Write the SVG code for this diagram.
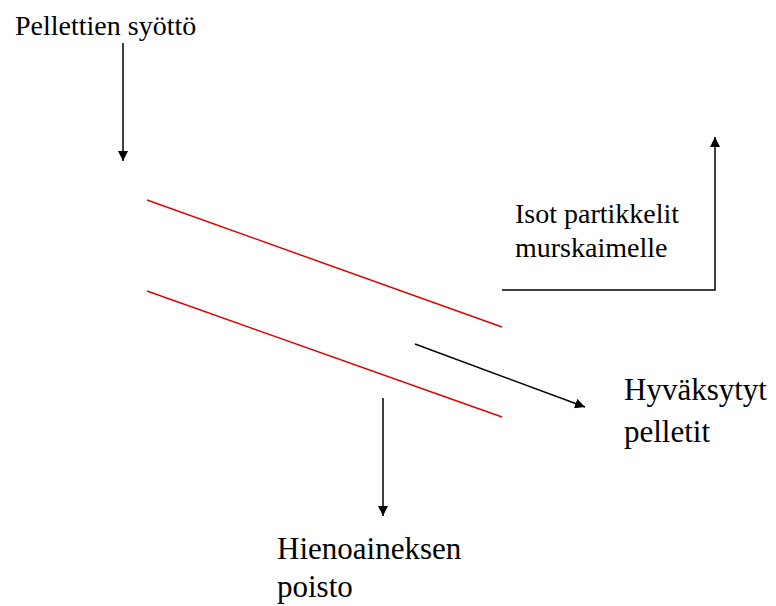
<svg xmlns="http://www.w3.org/2000/svg" width="776" height="606" viewBox="0 0 776 606">
  <defs>
    <marker id="arrow" viewBox="0 0 10 10" refX="10" refY="5" markerWidth="10" markerHeight="10" markerUnits="userSpaceOnUse" orient="auto">
      <path d="M0,0 L10,5 L0,10 Z" fill="#000"/>
    </marker>
  </defs>
  <style>
    .lbl { font-family: 'Liberation Serif', 'DejaVu Serif', 'Noto Serif', serif; fill: #000; }
    .small { font-size: 28px; }
    .large { font-size: 31px; }
    .flow { stroke: #000; stroke-width: 1.5; fill: none; }
    .screen { stroke: #e00000; stroke-width: 1.5; fill: none; }
  </style>
  <rect width="776" height="606" fill="#fff"/>

  <!-- screen decks -->
  <g id="screen-upper">
    <line class="screen" x1="147" y1="200" x2="502" y2="327"/>
  </g>
  <g id="screen-lower">
    <line class="screen" x1="147" y1="291" x2="502" y2="417"/>
  </g>

  <!-- flow arrows -->
  <g id="connectors">
    <line class="flow" x1="123" y1="43" x2="123" y2="161" marker-end="url(#arrow)"/>
    <line class="flow" x1="415" y1="344" x2="585" y2="407" marker-end="url(#arrow)"/>
    <line class="flow" x1="383" y1="398" x2="383" y2="516" marker-end="url(#arrow)"/>
    <polyline class="flow" points="502,290 715,290 715,137" marker-end="url(#arrow)"/>
  </g>

  <!-- labels -->
  <g id="feed">
    <text class="lbl small" x="15" y="35">Pellettien syöttö</text>
  </g>
  <g id="oversize">
    <text class="lbl small" x="515" y="223">Isot partikkelit</text>
    <text class="lbl small" x="515" y="257">murskaimelle</text>
  </g>
  <g id="accepted">
    <text class="lbl large" x="624" y="400">Hyväksytyt</text>
    <text class="lbl large" x="624" y="442">pelletit</text>
  </g>
  <g id="fines">
    <text class="lbl large" x="277" y="559">Hienoaineksen</text>
    <text class="lbl large" x="277" y="597">poisto</text>
  </g>
</svg>
